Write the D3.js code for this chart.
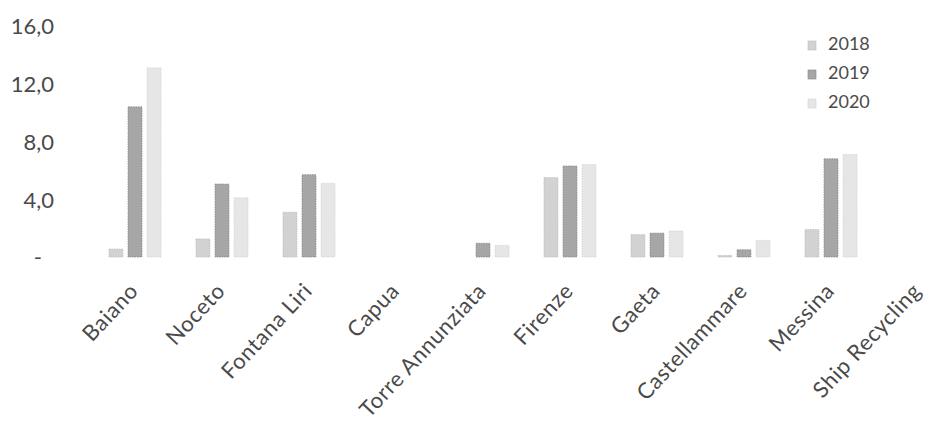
<!DOCTYPE html>
<html><head><meta charset="utf-8">
<script src="https://cdn.jsdelivr.net/npm/d3@7"></script>
<style>body{margin:0;background:#fff}svg{display:block}</style>
</head><body>
<script>
const categories = ["Baiano","Noceto","Fontana Liri","Capua","Torre Annunziata","Firenze","Gaeta","Castellammare","Messina","Ship Recycling"];
const series = ["2018","2019","2020"];
const v2018 = [0.55, 1.25, 3.1, 0, 0, 5.5, 1.55, 0.1, 1.9, 0];
const v2019 = [10.4, 5.05, 5.7, 0, 0.95, 6.3, 1.65, 0.5, 6.8, 0];
const v2020 = [13.1, 4.1, 5.1, 0, 0.8, 6.4, 1.8, 1.15, 7.1, 0];
const yTicks = [0, 4, 8, 12, 16];
const yTickLabels = ["-", "4,0", "8,0", "12,0", "16,0"];
const colors = ["#d2d2d2", "#a6a6a6", "#e6e6e6"];
const strokes = ["#bdbdbd", "#858585", "#d3d3d3"];

const W = 927, H = 424;
const svg = d3.select("body").append("svg").attr("width", W).attr("height", H);
const font = "Lato, 'Open Sans', sans-serif";
const textColor = "#4a4a4a";

const x = d3.scaleBand().domain(categories).range([91, 961]).paddingInner(0).paddingOuter(0);
const xs = d3.scaleBand().domain(series).range([18, 70]).paddingInner(0.27);
const y = d3.scaleLinear().domain([0, 16]).range([257, 26]);

const data = [v2018, v2019, v2020];
const g = svg.append("g");
categories.forEach((c, i) => {
  series.forEach((s, j) => {
    const v = data[j][i];
    if (v <= 0) return;
    g.append("rect")
      .attr("x", x(c) + xs(s))
      .attr("width", xs.bandwidth())
      .attr("y", y(v))
      .attr("height", y(0) - y(v))
      .attr("fill", colors[j])
      .attr("stroke", strokes[j])
      .attr("stroke-width", 0.8)
      .attr("stroke-dasharray", "1.5,1");
  });
});

// Y axis
const yAxis = d3.axisLeft(y).tickValues(yTicks).tickFormat((d, i) => yTickLabels[i]).tickSize(0).tickPadding(0);
const ya = svg.append("g").attr("transform", "translate(54,0)").call(yAxis);
ya.select(".domain").remove();
ya.selectAll("text").attr("font-family", font).attr("font-size", 22).attr("fill", textColor)
  .attr("dy", "0.36em")
  .attr("dx", (d) => d === 0 ? -12 : 0);

// X axis
const xAxis = d3.axisBottom(x).tickSize(0).tickPadding(0);
const xa = svg.append("g").attr("transform", "translate(0,292)").call(xAxis);
xa.select(".domain").remove();
xa.selectAll("text")
  .attr("font-family", font).attr("font-size", 22).attr("fill", textColor)
  .attr("letter-spacing", "0.6px")
  .attr("text-anchor", "end")
  .attr("y", 0)
  .attr("dy", "0")
  .attr("transform", "translate(5,0) rotate(-47)");

// Legend
const lg = svg.append("g").attr("transform", "translate(808,0)");
series.forEach((s, j) => {
  const by = 50 + j * 29;
  lg.append("rect").attr("x", 0).attr("y", by - 9).attr("width", 8).attr("height", 9)
    .attr("fill", colors[j]).attr("stroke", strokes[j]).attr("stroke-width", 0.6);
  lg.append("text").attr("x", 20).attr("y", by).text(s)
    .attr("font-family", font).attr("font-size", 18).attr("fill", textColor);
});
</script>
</body></html>
